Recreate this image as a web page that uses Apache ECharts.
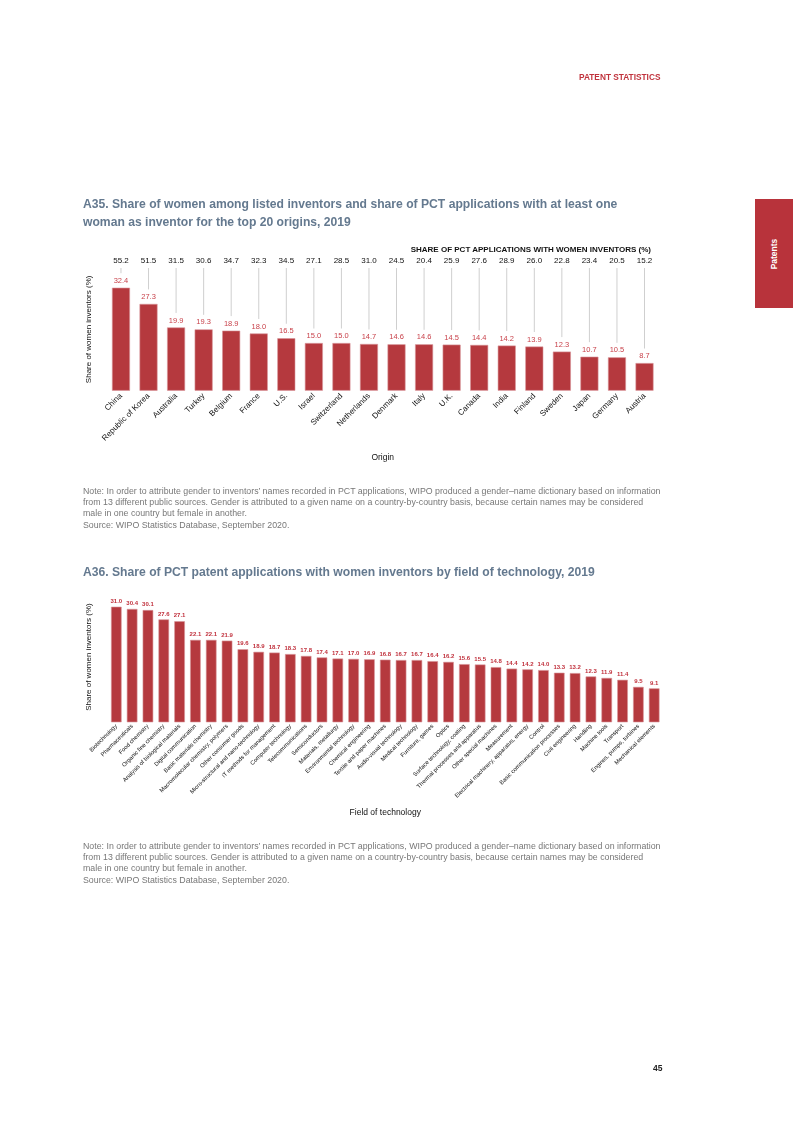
<!DOCTYPE html>
<html>
<head>
<meta charset="utf-8">
<script src="https://cdn.jsdelivr.net/npm/echarts@6/dist/echarts.min.js"></script>
<style>
  html,body{margin:0;padding:0;background:#fff;}
  body{width:793px;height:1122px;position:relative;overflow:hidden;font-family:"Liberation Sans",Arial,Helvetica,sans-serif;}
  #chart{position:absolute;left:0;top:0;width:793px;height:1122px;}
  .t{position:absolute;white-space:nowrap;}
  .hdr{left:579px;top:72px;font-size:8.3px;font-weight:bold;color:#c0333d;line-height:10px;}
  .tab{left:755px;top:199px;width:38px;height:109px;background:#b8333b;}
  .tabtxt{position:absolute;left:50%;top:50%;transform:translate(-50%,-50%) rotate(-90deg);color:#fff;font-weight:bold;font-size:8.5px;white-space:nowrap;}
  .title{left:83px;font-size:12.15px;font-weight:bold;color:#64798f;line-height:18px;}
  .note{left:83px;font-size:8.8px;color:#777;line-height:11px;}
  .pg{left:653px;top:1063px;font-size:8.5px;font-weight:bold;color:#222;line-height:10px;}
  .sub{font-size:8px;font-weight:bold;color:#111;line-height:9px;}
</style>
</head>
<body>
<div id="chart"></div>
<div class="t hdr">PATENT STATISTICS</div>
<div class="t tab"><div class="tabtxt">Patents</div></div>
<div class="t title" style="top:195px;">A35. Share of women among listed inventors and share of PCT applications with at least one<br>woman as inventor for the top 20 origins, 2019</div>
<div class="t sub" style="right:142px;top:244.5px;">SHARE OF PCT APPLICATIONS WITH WOMEN INVENTORS (%)</div>
<div class="t note" style="top:485.5px;">Note: In order to attribute gender to inventors’ names recorded in PCT applications, WIPO produced a gender–name dictionary based on information<br>from 13 different public sources. Gender is attributed to a given name on a country-by-country basis, because certain names may be considered<br>male in one country but female in another.</div>
<div class="t note" style="top:519.5px;">Source: WIPO Statistics Database, September 2020.</div>
<div class="t title" style="top:563px;">A36. Share of PCT patent applications with women inventors by field of technology, 2019</div>
<div class="t note" style="top:840.5px;">Note: In order to attribute gender to inventors’ names recorded in PCT applications, WIPO produced a gender–name dictionary based on information<br>from 13 different public sources. Gender is attributed to a given name on a country-by-country basis, because certain names may be considered<br>male in one country but female in another.</div>
<div class="t note" style="top:874.5px;">Source: WIPO Statistics Database, September 2020.</div>
<div class="t pg">45</div>
<script>
// ---- A35 data ----
const origins = ["China","Republic of Korea","Australia","Turkey","Belgium","France","U.S.","Israel","Switzerland","Netherlands","Denmark","Italy","U.K.","Canada","India","Finland","Sweden","Japan","Germany","Austria"];
const womenInventorShare = [32.4,27.3,19.9,19.3,18.9,18.0,16.5,15.0,15.0,14.7,14.6,14.6,14.5,14.4,14.2,13.9,12.3,10.7,10.5,8.7];
const pctWithWomenShare = [55.2,51.5,31.5,30.6,34.7,32.3,34.5,27.1,28.5,31.0,24.5,20.4,25.9,27.6,28.9,26.0,22.8,23.4,20.5,15.2];

// ---- A36 data ----
const fields = ["Biotechnology","Pharmaceuticals","Food chemistry","Organic fine chemistry","Analysis of biological materials","Digital communication","Basic materials chemistry","Macromolecular chemistry, polymers","Other consumer goods","Micro-structural and nano-technology","IT methods for management","Computer technology","Telecommunications","Semiconductors","Materials, metallurgy","Environmental technology","Chemical engineering","Textile and paper machines","Audio-visual technology","Medical technology","Furniture, games","Optics","Surface technology, coating","Thermal processes and apparatus","Other special machines","Measurement","Electrical machinery, apparatus, energy","Control","Basic communication processes","Civil engineering","Handling","Machine tools","Transport","Engines, pumps, turbines","Mechanical elements"];
const fieldShare = [31.0,30.4,30.1,27.6,27.1,22.1,22.1,21.9,19.6,18.9,18.7,18.3,17.8,17.4,17.1,17.0,16.9,16.8,16.7,16.7,16.4,16.2,15.6,15.5,14.8,14.4,14.2,14.0,13.3,13.2,12.3,11.9,11.4,9.5,9.1];

const FONT = '"Liberation Sans", Arial, Helvetica, sans-serif';
const BAR = '#b5393e';

const chart = echarts.init(document.getElementById('chart'), null, {renderer:'canvas'});
chart.setOption({
  animation:false,
  textStyle:{fontFamily:FONT},
  grid:[
    {left:107.2, top:268, width:551.1, height:122.7},
    {left:108.4, top:591.8, width:553.7, height:130.5}
  ],
  xAxis:[
    {gridIndex:0, type:'category', data:origins, axisLine:{show:false}, axisTick:{show:false},
     axisLabel:{rotate:45, interval:0, fontSize:8, color:'#111', margin:4, fontFamily:FONT},
     name:'Origin', nameLocation:'middle', nameGap:62, nameTextStyle:{fontSize:8.5, color:'#111', fontFamily:FONT}},
    {gridIndex:0, type:'category', position:'top', data:pctWithWomenShare.map(v=>v.toFixed(1)),
     axisLine:{show:false}, axisTick:{show:false},
     axisLabel:{interval:0, fontSize:8, color:'#111', margin:3, fontFamily:FONT}},
    {gridIndex:1, type:'category', data:fields, axisLine:{show:false}, axisTick:{show:false},
     axisLabel:{rotate:45, interval:0, fontSize:5.8, color:'#111', margin:3, fontFamily:FONT},
     name:'Field of technology', nameLocation:'middle', nameGap:86, nameTextStyle:{fontSize:8.5, color:'#111', fontFamily:FONT}}
  ],
  yAxis:[
    {gridIndex:0, type:'value', min:0, max:38.6, axisLine:{show:false}, axisTick:{show:false}, axisLabel:{show:false}, splitLine:{show:false},
     name:'Share of women inventors (%)', nameLocation:'middle', nameGap:14, nameTextStyle:{fontSize:8, color:'#111', fontFamily:FONT}},
    {gridIndex:1, type:'value', min:0, max:35, axisLine:{show:false}, axisTick:{show:false}, axisLabel:{show:false}, splitLine:{show:false},
     name:'Share of women inventors (%)', nameLocation:'middle', nameGap:16, nameTextStyle:{fontSize:8, color:'#111', fontFamily:FONT}}
  ],
  series:[
    {type:'custom', xAxisIndex:0, yAxisIndex:0, silent:true,
     data:womenInventorShare.map((v,i)=>[i,v]),
     renderItem:function(params, api){
       const p = api.coord([api.value(0), api.value(1)]);
       const top = params.coordSys.y;
       return {type:'line', shape:{x1:p[0], y1:top, x2:p[0], y2:p[1]-14.5}, style:{stroke:'#cfcfcf', lineWidth:1}};
     }},
    {type:'bar', xAxisIndex:0, yAxisIndex:0, data:womenInventorShare, barWidth:18,
     itemStyle:{color:BAR, borderColor:'#d9959a', borderWidth:0.6},
     label:{show:true, position:'top', distance:3, fontSize:7.5, color:'#c8414a', fontFamily:FONT, formatter:p=>p.value.toFixed(1)}},
    {type:'bar', xAxisIndex:2, yAxisIndex:1, data:fieldShare, barWidth:10.6,
     itemStyle:{color:BAR, borderColor:'#d9959a', borderWidth:0.6},
     label:{show:true, position:'top', distance:2.5, fontSize:6, fontWeight:'bold', color:'#c0303c', fontFamily:FONT, formatter:p=>p.value.toFixed(1)}}
  ]
});
</script>
</body>
</html>
